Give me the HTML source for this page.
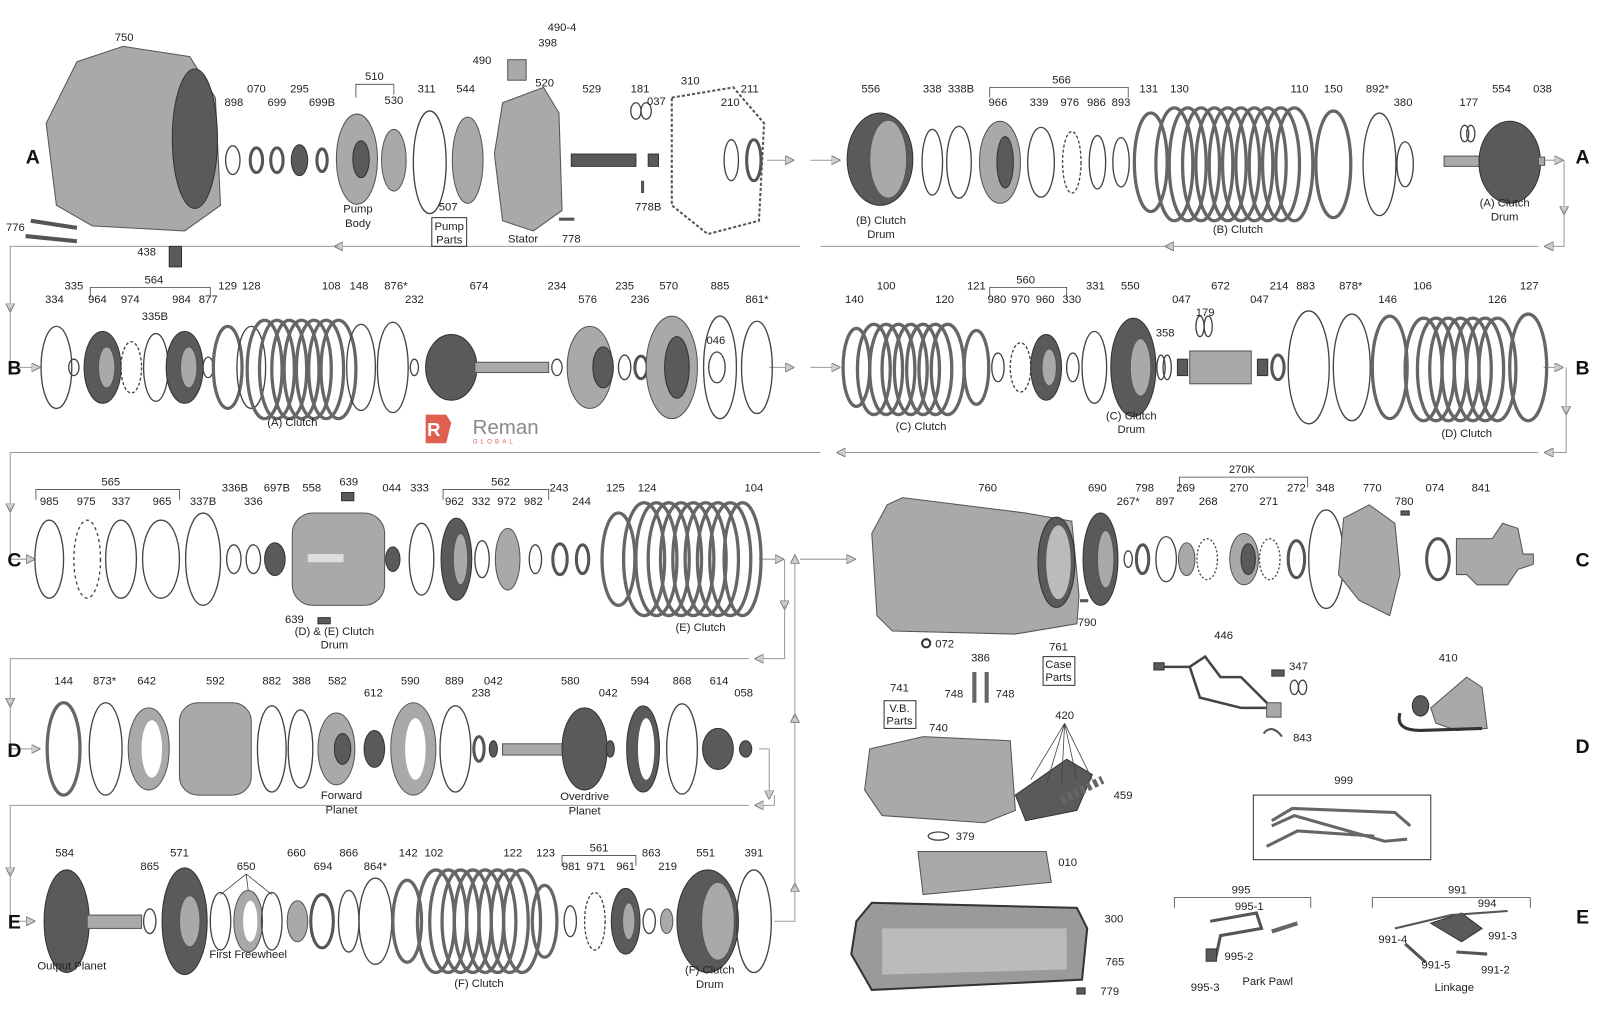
<!DOCTYPE html>
<html><head><meta charset="utf-8"><style>
html,body{margin:0;padding:0;background:#fff;}
svg{display:block}
text{font-family:"Liberation Sans",sans-serif;font-size:11px;fill:#222;text-anchor:middle}
.L{font-size:19px;font-weight:bold;fill:#111}
.r{fill:none;stroke:#444;stroke-width:1.3}
.rt{fill:none;stroke:#555;stroke-width:3}
.d{fill:#5a5a5a;stroke:#333;stroke-width:1}
.g{fill:#a9a9a9;stroke:#555;stroke-width:1}
.p{fill:none;stroke:#666;stroke-width:3.2}
.f{fill:none;stroke:#999;stroke-width:1}
.ld{stroke:#444;stroke-width:.8;fill:none}
</style></head><body>
<svg width="1600" height="1024" viewBox="0 0 1560 998" xmlns="http://www.w3.org/2000/svg">
<defs>
<marker id="ar" viewBox="0 0 10 10" refX="5" refY="5" markerWidth="9" markerHeight="9" orient="auto"><path d="M0,0 L10,5 L0,10 z" fill="#ccc" stroke="#777"/></marker>
</defs>
<!-- flow lines -->
<g class="f" marker-end="url(#ar)">
<path d="M748,156 H770"/><path d="M790,156 H815"/>
<path d="M1505,156 H1520"/>
<path d="M1525,156 V205"/><path d="M1525,205 V240 H1510"/>
<path d="M1500,240 H1140"/><path d="M1140,240 H800 M780,240 H330"/><path d="M330,240 H10 V300"/><path d="M10,300 V358 H35"/>
<path d="M750,358 H770"/><path d="M790,358 H815"/>
<path d="M1505,358 H1520"/><path d="M1527,358 V400"/><path d="M1527,400 V441 H1510"/>
<path d="M1500,441 H820"/><path d="M800,441 H10 V495"/><path d="M10,495 V545 H30"/>
<path d="M740,545 H760"/><path d="M780,545 H830"/>
<path d="M765,545 V590"/><path d="M765,590 V642 H740"/><path d="M730,642 H10 V685"/><path d="M10,685 V730 H35"/>
<path d="M740,730 H750 V775"/><path d="M755,775 V785 H740"/><path d="M730,785 H10 V850"/><path d="M10,850 V898 H30"/>
<path d="M755,898 H775 V865"/><path d="M775,865 V700"/><path d="M775,700 V545"/>
</g>
<!-- row letters -->
<text class="L" x="32" y="159">A</text><text class="L" x="1543" y="159">A</text>
<text class="L" x="14" y="365">B</text><text class="L" x="1543" y="365">B</text>
<text class="L" x="14" y="552">C</text><text class="L" x="1543" y="552">C</text>
<text class="L" x="14" y="738">D</text><text class="L" x="1543" y="734">D</text>
<text class="L" x="14" y="905">E</text><text class="L" x="1543" y="900">E</text>

<!-- ROW A parts -->
<path class="g" d="M75,60 L120,45 L185,55 L210,95 L215,200 L180,225 L90,220 L55,200 L45,120 Z"/>
<ellipse class="d" cx="190" cy="135" rx="22" ry="68"/>
<path d="M30,215 L75,222 M25,230 L75,235" stroke="#555" stroke-width="4"/>
<rect class="d" x="165" y="240" width="12" height="20"/>
<ellipse class="r" cx="227" cy="156" rx="7" ry="14"/>
<ellipse class="rt" cx="250" cy="156" rx="6" ry="12"/>
<ellipse class="rt" cx="270" cy="156" rx="6" ry="12"/>
<ellipse class="d" cx="292" cy="156" rx="8" ry="15"/>
<ellipse class="rt" cx="314" cy="156" rx="5" ry="11"/>
<ellipse class="g" cx="348" cy="155" rx="20" ry="44"/><ellipse class="d" cx="352" cy="155" rx="8" ry="18"/>
<ellipse class="g" cx="384" cy="156" rx="12" ry="30"/>
<ellipse class="r" cx="419" cy="158" rx="16" ry="50"/>
<ellipse class="g" cx="456" cy="156" rx="15" ry="42"/>
<path class="g" d="M490,100 L530,85 L545,110 L548,205 L520,225 L490,215 L482,150 Z"/>
<rect class="g" x="495" y="58" width="18" height="20"/>
<rect class="d" x="557" y="150" width="63" height="12"/>
<ellipse class="r" cx="620" cy="108" rx="5" ry="8"/><ellipse class="r" cx="630" cy="108" rx="5" ry="8"/>
<rect class="d" x="632" y="150" width="10" height="12"/>
<path d="M655,95 L715,85 L745,120 L740,215 L690,228 L655,200 Z" fill="none" stroke="#555" stroke-width="2" stroke-dasharray="3,2"/>
<ellipse class="r" cx="713" cy="156" rx="7" ry="20"/><ellipse class="rt" cx="735" cy="156" rx="7" ry="20"/>
<rect x="545" y="212" width="15" height="3" fill="#555"/><rect x="625" y="176" width="3" height="12" fill="#555"/>
<!-- right A -->
<ellipse class="d" cx="858" cy="155" rx="32" ry="45"/><ellipse class="g" cx="866" cy="155" rx="18" ry="38"/>
<ellipse class="r" cx="909" cy="158" rx="10" ry="32"/><ellipse class="r" cx="935" cy="158" rx="12" ry="35"/>
<ellipse class="g" cx="975" cy="158" rx="20" ry="40"/><ellipse class="d" cx="980" cy="158" rx="8" ry="25"/>
<ellipse class="r" cx="1015" cy="158" rx="13" ry="34"/>
<ellipse class="r" cx="1045" cy="158" rx="9" ry="30" stroke-dasharray="3,2" stroke-width="3"/>
<ellipse class="r" cx="1070" cy="158" rx="8" ry="26"/><ellipse class="r" cx="1093" cy="158" rx="8" ry="24"/>
<ellipse class="p" cx="1122" cy="158" rx="16" ry="48"/>
<g class="p"><ellipse cx="1145" cy="160" rx="18" ry="55"/><ellipse cx="1158" cy="160" rx="18" ry="55"/><ellipse cx="1171" cy="160" rx="18" ry="55"/><ellipse cx="1184" cy="160" rx="18" ry="55"/><ellipse cx="1197" cy="160" rx="18" ry="55"/><ellipse cx="1210" cy="160" rx="18" ry="55"/><ellipse cx="1223" cy="160" rx="18" ry="55"/><ellipse cx="1236" cy="160" rx="18" ry="55"/><ellipse cx="1249" cy="160" rx="18" ry="55"/><ellipse cx="1262" cy="160" rx="18" ry="55"/></g>
<ellipse class="p" cx="1300" cy="160" rx="17" ry="52"/>
<ellipse class="r" cx="1345" cy="160" rx="16" ry="50"/>
<ellipse class="r" cx="1370" cy="160" rx="8" ry="22"/>
<ellipse class="r" cx="1428" cy="130" rx="4" ry="8"/><ellipse class="r" cx="1434" cy="130" rx="4" ry="8"/>
<rect class="g" x="1408" y="152" width="45" height="10"/>
<ellipse class="d" cx="1472" cy="158" rx="30" ry="40"/>
<rect class="g" x="1500" y="153" width="6" height="8"/>

<!-- ROW B -->
<ellipse class="r" cx="55" cy="358" rx="15" ry="40"/><ellipse class="r" cx="72" cy="358" rx="5" ry="8"/>
<ellipse class="d" cx="100" cy="358" rx="18" ry="35"/><ellipse class="g" cx="104" cy="358" rx="8" ry="20"/>
<ellipse class="r" cx="128" cy="358" rx="10" ry="25" stroke-dasharray="3,2" stroke-width="3"/>
<ellipse class="r" cx="152" cy="358" rx="12" ry="33"/>
<ellipse class="d" cx="180" cy="358" rx="18" ry="35"/><ellipse class="g" cx="184" cy="358" rx="8" ry="20"/>
<ellipse class="r" cx="203" cy="358" rx="5" ry="10"/>
<ellipse class="p" cx="222" cy="358" rx="14" ry="40"/><ellipse class="r" cx="245" cy="358" rx="14" ry="40"/>
<g class="p"><ellipse cx="258" cy="360" rx="17" ry="48"/><ellipse cx="270" cy="360" rx="17" ry="48"/><ellipse cx="282" cy="360" rx="17" ry="48"/><ellipse cx="294" cy="360" rx="17" ry="48"/><ellipse cx="306" cy="360" rx="17" ry="48"/><ellipse cx="318" cy="360" rx="17" ry="48"/><ellipse cx="330" cy="360" rx="17" ry="48"/></g>
<ellipse class="r" cx="352" cy="358" rx="14" ry="42" stroke-width="2.5"/>
<ellipse class="r" cx="383" cy="358" rx="15" ry="44"/>
<ellipse class="r" cx="404" cy="358" rx="4" ry="8"/>
<ellipse class="d" cx="440" cy="358" rx="25" ry="32"/><rect class="g" x="463" y="353" width="72" height="10"/>
<ellipse class="r" cx="543" cy="358" rx="5" ry="8"/>
<ellipse class="g" cx="575" cy="358" rx="22" ry="40"/><ellipse class="d" cx="588" cy="358" rx="10" ry="20"/>
<ellipse class="r" cx="609" cy="358" rx="6" ry="12"/><ellipse class="rt" cx="625" cy="358" rx="6" ry="11"/>
<ellipse class="g" cx="655" cy="358" rx="25" ry="50"/><ellipse class="d" cx="660" cy="358" rx="12" ry="30"/>
<ellipse class="r" cx="702" cy="358" rx="16" ry="50"/><ellipse class="r" cx="699" cy="358" rx="8" ry="15"/>
<ellipse class="r" cx="738" cy="358" rx="15" ry="45"/>
<!-- Reman logo -->
<path d="M415,404 h20 l5,8 l-5,20 h-20 z" fill="#e0604f"/>
<text x="423" y="425" style="font-size:18px;fill:#fff;font-weight:bold">R</text>
<text x="493" y="423" style="font-size:20px;fill:#8a8a8a">Reman</text>
<text x="482" y="432" style="font-size:6px;fill:#e0604f;letter-spacing:3px">GLOBAL</text>
<!-- right B -->
<ellipse class="p" cx="835" cy="358" rx="13" ry="38"/>
<g class="p"><ellipse cx="852" cy="360" rx="16" ry="44"/><ellipse cx="864" cy="360" rx="16" ry="44"/><ellipse cx="876" cy="360" rx="16" ry="44"/><ellipse cx="888" cy="360" rx="16" ry="44"/><ellipse cx="900" cy="360" rx="16" ry="44"/><ellipse cx="912" cy="360" rx="16" ry="44"/><ellipse cx="924" cy="360" rx="16" ry="44"/></g>
<ellipse class="p" cx="952" cy="358" rx="12" ry="36"/>
<ellipse class="r" cx="973" cy="358" rx="6" ry="14"/>
<ellipse class="r" cx="995" cy="358" rx="10" ry="24" stroke-dasharray="3,2" stroke-width="3"/>
<ellipse class="d" cx="1020" cy="358" rx="15" ry="32"/><ellipse class="g" cx="1023" cy="358" rx="7" ry="18"/>
<ellipse class="r" cx="1046" cy="358" rx="6" ry="14"/><ellipse class="r" cx="1067" cy="358" rx="12" ry="35"/>
<ellipse class="d" cx="1105" cy="358" rx="22" ry="48"/><ellipse class="g" cx="1112" cy="358" rx="10" ry="28"/>
<ellipse class="r" cx="1132" cy="358" rx="4" ry="12"/><ellipse class="r" cx="1138" cy="358" rx="4" ry="12"/>
<rect class="d" x="1148" y="350" width="10" height="16"/>
<rect class="g" x="1160" y="342" width="60" height="32"/>
<ellipse class="r" cx="1170" cy="318" rx="4" ry="10"/><ellipse class="r" cx="1178" cy="318" rx="4" ry="10"/>
<rect class="d" x="1226" y="350" width="10" height="16"/>
<ellipse class="rt" cx="1246" cy="358" rx="6" ry="12"/>
<ellipse class="r" cx="1276" cy="358" rx="20" ry="55"/><ellipse class="r" cx="1318" cy="358" rx="18" ry="52"/>
<ellipse class="p" cx="1355" cy="358" rx="17" ry="50"/>
<g class="p"><ellipse cx="1388" cy="360" rx="18" ry="50"/><ellipse cx="1400" cy="360" rx="18" ry="50"/><ellipse cx="1412" cy="360" rx="18" ry="50"/><ellipse cx="1424" cy="360" rx="18" ry="50"/><ellipse cx="1436" cy="360" rx="18" ry="50"/><ellipse cx="1448" cy="360" rx="18" ry="50"/><ellipse cx="1460" cy="360" rx="18" ry="50"/></g>
<ellipse class="p" cx="1490" cy="358" rx="18" ry="52"/>

<!-- ROW C -->
<ellipse class="r" cx="48" cy="545" rx="14" ry="38"/>
<ellipse class="r" cx="85" cy="545" rx="13" ry="38" stroke-dasharray="3,3" stroke-width="3.5"/>
<ellipse class="r" cx="118" cy="545" rx="15" ry="38"/>
<ellipse class="r" cx="157" cy="545" rx="18" ry="38" stroke-width="4"/>
<ellipse class="r" cx="198" cy="545" rx="17" ry="45"/>
<ellipse class="r" cx="228" cy="545" rx="7" ry="14"/><ellipse class="r" cx="247" cy="545" rx="7" ry="14"/>
<ellipse class="d" cx="268" cy="545" rx="10" ry="16"/>
<rect class="g" x="285" y="500" width="90" height="90" rx="20"/><rect x="300" y="540" width="35" height="8" fill="#ddd"/>
<rect class="d" x="333" y="480" width="12" height="8"/><rect class="d" x="310" y="602" width="12" height="6"/>
<ellipse class="d" cx="383" cy="545" rx="7" ry="12"/>
<ellipse class="r" cx="411" cy="545" rx="12" ry="35"/>
<ellipse class="d" cx="445" cy="545" rx="15" ry="40"/><ellipse class="g" cx="449" cy="545" rx="7" ry="25"/>
<ellipse class="r" cx="470" cy="545" rx="7" ry="18"/>
<ellipse class="g" cx="495" cy="545" rx="12" ry="30"/>
<ellipse class="r" cx="522" cy="545" rx="6" ry="14"/>
<ellipse class="rt" cx="546" cy="545" rx="7" ry="15"/><ellipse class="rt" cx="568" cy="545" rx="6" ry="14"/>
<ellipse class="p" cx="603" cy="545" rx="16" ry="45"/>
<g class="p"><ellipse cx="628" cy="545" rx="20" ry="55"/><ellipse cx="640" cy="545" rx="20" ry="55"/><ellipse cx="652" cy="545" rx="20" ry="55"/><ellipse cx="664" cy="545" rx="20" ry="55"/><ellipse cx="676" cy="545" rx="20" ry="55"/><ellipse cx="688" cy="545" rx="20" ry="55"/><ellipse cx="700" cy="545" rx="20" ry="55"/><ellipse cx="712" cy="545" rx="20" ry="55"/><ellipse cx="724" cy="545" rx="18" ry="55"/></g>
<!-- case -->
<path class="g" d="M865,492 L880,485 L1000,500 L1045,508 L1052,580 L1050,608 L990,618 L870,615 L855,600 L850,520 Z"/>
<ellipse class="d" cx="1030" cy="548" rx="18" ry="44"/><ellipse fill="#bbb" cx="1032" cy="548" rx="12" ry="36"/>
<circle cx="903" cy="627" r="4" fill="none" stroke="#333" stroke-width="2"/>
<rect x="1053" y="584" width="8" height="3" fill="#555"/>
<ellipse class="d" cx="1073" cy="545" rx="17" ry="45"/><ellipse class="g" cx="1078" cy="545" rx="8" ry="28"/>
<ellipse class="r" cx="1100" cy="545" rx="4" ry="8"/>
<ellipse class="rt" cx="1114" cy="545" rx="6" ry="14"/>
<ellipse class="r" cx="1137" cy="545" rx="10" ry="22"/>
<ellipse class="g" cx="1157" cy="545" rx="8" ry="16"/>
<ellipse class="r" cx="1177" cy="545" rx="10" ry="20" stroke-dasharray="2,2" stroke-width="3"/>
<ellipse class="g" cx="1213" cy="545" rx="14" ry="25"/><ellipse class="d" cx="1217" cy="545" rx="7" ry="15"/>
<ellipse class="r" cx="1238" cy="545" rx="10" ry="20" stroke-dasharray="2,2" stroke-width="3"/>
<ellipse class="rt" cx="1264" cy="545" rx="8" ry="18"/>
<ellipse class="r" cx="1293" cy="545" rx="17" ry="48"/>
<path class="g" d="M1310,505 L1335,492 L1360,510 L1365,560 L1355,600 L1325,585 L1305,560 Z"/>
<rect class="d" x="1366" y="498" width="8" height="4"/>
<ellipse class="rt" cx="1402" cy="545" rx="11" ry="20"/>
<path class="g" d="M1420,525 L1455,525 L1465,510 L1480,515 L1485,540 L1495,540 L1495,550 L1480,555 L1470,570 L1440,570 L1430,560 L1420,560 Z"/>

<!-- ROW D -->
<ellipse class="p" cx="62" cy="730" rx="16" ry="45"/>
<ellipse class="r" cx="103" cy="730" rx="16" ry="45"/>
<ellipse class="g" cx="145" cy="730" rx="20" ry="40"/><ellipse fill="#fff" cx="148" cy="730" rx="10" ry="28"/>
<rect class="g" x="175" y="685" width="70" height="90" rx="18"/>
<ellipse class="r" cx="265" cy="730" rx="14" ry="42"/><ellipse class="r" cx="293" cy="730" rx="12" ry="38"/>
<ellipse class="g" cx="328" cy="730" rx="18" ry="35"/><ellipse class="d" cx="334" cy="730" rx="8" ry="15"/>
<ellipse class="d" cx="365" cy="730" rx="10" ry="18"/>
<ellipse class="g" cx="403" cy="730" rx="22" ry="45"/><ellipse fill="#fff" cx="405" cy="730" rx="10" ry="30"/>
<ellipse class="r" cx="444" cy="730" rx="15" ry="42"/>
<ellipse class="rt" cx="467" cy="730" rx="5" ry="12"/><ellipse class="d" cx="481" cy="730" rx="4" ry="8"/>
<rect class="g" x="490" y="725" width="70" height="11"/>
<ellipse class="d" cx="570" cy="730" rx="22" ry="40"/>
<ellipse class="d" cx="595" cy="730" rx="4" ry="8"/>
<ellipse class="d" cx="627" cy="730" rx="16" ry="42"/><ellipse fill="#fff" cx="630" cy="730" rx="8" ry="30"/>
<ellipse class="r" cx="665" cy="730" rx="15" ry="44"/>
<ellipse class="d" cx="700" cy="730" rx="15" ry="20"/><ellipse class="d" cx="727" cy="730" rx="6" ry="8"/>
<!-- right D -->
<path d="M1130,650 L1160,650 L1175,640 L1190,660 L1210,660 L1240,690 M1160,650 L1170,680 L1210,690 L1240,690" fill="none" stroke="#444" stroke-width="2.5"/>
<rect class="d" x="1125" y="646" width="10" height="7"/><rect class="d" x="1240" y="653" width="12" height="6"/>
<rect class="g" x="1235" y="685" width="14" height="14"/>
<ellipse class="r" cx="1262" cy="670" rx="4" ry="7"/><ellipse class="r" cx="1270" cy="670" rx="4" ry="7"/>
<path d="M1232,715 Q1240,705 1250,718" fill="none" stroke="#555" stroke-width="2"/>
<path class="g" d="M1395,690 L1430,660 L1445,670 L1450,710 L1420,712 L1400,705 Z"/>
<ellipse class="d" cx="1385" cy="688" rx="8" ry="10"/>
<path d="M1365,695 Q1360,712 1385,712 L1445,710" fill="none" stroke="#333" stroke-width="3"/>
<rect x="1222" y="775" width="173" height="63" fill="none" stroke="#333"/>
<path d="M1240,800 L1260,788 L1360,792 L1375,805 M1240,805 L1262,795 L1350,820 L1372,818 M1235,825 L1265,810 L1340,815" fill="none" stroke="#666" stroke-width="3"/>

<!-- ROW E -->
<ellipse class="d" cx="65" cy="898" rx="22" ry="50"/><rect class="g" x="85" y="892" width="53" height="13"/>
<ellipse class="r" cx="146" cy="898" rx="6" ry="12"/>
<ellipse class="d" cx="180" cy="898" rx="22" ry="52"/><ellipse class="g" cx="185" cy="898" rx="10" ry="25"/>
<ellipse class="r" cx="215" cy="898" rx="10" ry="28" stroke-width="2.5"/>
<ellipse class="g" cx="242" cy="898" rx="14" ry="30"/><ellipse fill="#fff" cx="244" cy="898" rx="7" ry="20"/>
<ellipse class="r" cx="265" cy="898" rx="10" ry="28" stroke-width="2.5"/>
<ellipse class="g" cx="290" cy="898" rx="10" ry="20"/>
<ellipse class="rt" cx="314" cy="898" rx="11" ry="26"/>
<ellipse class="r" cx="340" cy="898" rx="10" ry="30"/>
<ellipse class="r" cx="366" cy="898" rx="16" ry="42"/>
<ellipse class="p" cx="397" cy="898" rx="14" ry="40"/>
<g class="p"><ellipse cx="425" cy="898" rx="18" ry="50"/><ellipse cx="437" cy="898" rx="18" ry="50"/><ellipse cx="449" cy="898" rx="18" ry="50"/><ellipse cx="461" cy="898" rx="18" ry="50"/><ellipse cx="473" cy="898" rx="18" ry="50"/><ellipse cx="485" cy="898" rx="18" ry="50"/><ellipse cx="497" cy="898" rx="18" ry="50"/><ellipse cx="509" cy="898" rx="18" ry="50"/></g>
<ellipse class="p" cx="531" cy="898" rx="12" ry="35"/>
<ellipse class="r" cx="556" cy="898" rx="6" ry="15"/>
<ellipse class="r" cx="580" cy="898" rx="10" ry="28" stroke-dasharray="3,2" stroke-width="3"/>
<ellipse class="d" cx="610" cy="898" rx="14" ry="32"/><ellipse class="g" cx="613" cy="898" rx="6" ry="18"/>
<ellipse class="r" cx="633" cy="898" rx="6" ry="12"/><ellipse class="g" cx="650" cy="898" rx="6" ry="12"/>
<ellipse class="d" cx="690" cy="898" rx="30" ry="50"/><ellipse class="g" cx="700" cy="898" rx="16" ry="38"/>
<ellipse class="r" cx="735" cy="898" rx="17" ry="50"/>
<!-- right E -->
<path class="g" d="M848,730 L900,718 L985,722 L990,790 L960,802 L860,795 L843,770 Z"/>
<path class="d" d="M990,775 L1040,740 L1065,755 L1050,790 L1000,800 Z"/>
<path d="M1035,780 L1075,760" stroke="#666" stroke-width="8" stroke-dasharray="4,3"/>
<path d="M950,655 V685 M962,655 V685" stroke="#666" stroke-width="4"/>
<ellipse class="r" cx="915" cy="815" rx="10" ry="4"/>
<path class="g" d="M895,830 L1020,830 L1025,860 L900,872 Z"/>
<path d="M835,898 L850,880 L1050,885 L1060,905 L1055,955 L850,965 L830,930 Z" fill="#9a9a9a" stroke="#333" stroke-width="2"/>
<path d="M860,905 L1040,905 L1040,945 L860,950 Z" fill="#bbb"/>
<rect class="d" x="1050" y="963" width="8" height="6"/>
<path d="M1180,898 L1225,890 L1230,905 L1190,912 L1185,935" fill="none" stroke="#555" stroke-width="3"/>
<rect class="d" x="1176" y="925" width="10" height="12"/>
<path d="M1240,908 L1265,900" stroke="#666" stroke-width="4"/>
<path class="d" d="M1395,900 L1425,890 L1445,905 L1425,918 Z"/>
<path d="M1360,905 L1415,892 L1470,888" fill="none" stroke="#555" stroke-width="2"/>
<path d="M1370,920 L1390,938 M1420,928 L1450,930" stroke="#555" stroke-width="3"/>

<!-- LABELS -->
<text x="121" y="40">750</text><text x="228" y="103">898</text><text x="250" y="90">070</text><text x="270" y="103">699</text><text x="292" y="90">295</text><text x="314" y="103">699B</text>
<text x="365" y="78">510</text><path class="ld" d="M347,95 V82 H384 V92"/><text x="384" y="101">530</text>
<text x="416" y="90">311</text><text x="454" y="90">544</text><text x="548" y="30">490-4</text><text x="534" y="45">398</text>
<text x="470" y="62">490</text><text x="531" y="84">520</text><text x="577" y="90">529</text><text x="624" y="90">181</text><text x="640" y="102">037</text>
<text x="673" y="82">310</text><text x="712" y="103">210</text><text x="731" y="90">211</text>
<text x="437" y="205">507</text><rect x="421" y="212" width="34" height="28" fill="none" stroke="#333"/><text x="438" y="224">Pump</text><text x="438" y="237">Parts</text>
<text x="349" y="207">Pump</text><text x="349" y="221">Body</text><text x="510" y="236">Stator</text><text x="557" y="236">778</text><text x="632" y="205">778B</text>
<text x="15" y="225">776</text><text x="143" y="249">438</text>
<text x="849" y="90">556</text><text x="909" y="90">338</text><text x="937" y="90">338B</text>
<text x="1035" y="81">566</text><path class="ld" d="M965,95 V85 H1100 V95"/>
<text x="973" y="103">966</text><text x="1013" y="103">339</text><text x="1043" y="103">976</text><text x="1069" y="103">986</text><text x="1093" y="103">893</text>
<text x="1120" y="90">131</text><text x="1150" y="90">130</text><text x="1267" y="90">110</text><text x="1300" y="90">150</text><text x="1343" y="90">892*</text><text x="1368" y="103">380</text>
<text x="1432" y="103">177</text><text x="1464" y="90">554</text><text x="1504" y="90">038</text>
<text x="859" y="218">(B) Clutch</text><text x="859" y="232">Drum</text><text x="1207" y="227">(B) Clutch</text>
<text x="1467" y="201">(A) Clutch</text><text x="1467" y="215">Drum</text>

<text x="53" y="295">334</text><text x="72" y="282">335</text><text x="150" y="276">564</text><path class="ld" d="M88,290 V280 H205 V290"/>
<text x="95" y="295">964</text><text x="127" y="295">974</text><text x="151" y="312">335B</text><text x="177" y="295">984</text><text x="203" y="295">877</text>
<text x="222" y="282">129</text><text x="245" y="282">128</text><text x="323" y="282">108</text><text x="350" y="282">148</text><text x="386" y="282">876*</text><text x="404" y="295">232</text>
<text x="467" y="282">674</text><text x="543" y="282">234</text><text x="573" y="295">576</text><text x="609" y="282">235</text><text x="624" y="295">236</text><text x="652" y="282">570</text>
<text x="702" y="282">885</text><text x="698" y="335">046</text><text x="738" y="295">861*</text><text x="285" y="415">(A) Clutch</text>
<text x="833" y="295">140</text><text x="864" y="282">100</text><text x="921" y="295">120</text><text x="952" y="282">121</text>
<text x="1000" y="276">560</text><path class="ld" d="M965,290 V280 H1040 V290"/>
<text x="972" y="295">980</text><text x="995" y="295">970</text><text x="1019" y="295">960</text><text x="1045" y="295">330</text><text x="1068" y="282">331</text><text x="1102" y="282">550</text>
<text x="1152" y="295">047</text><text x="1175" y="308">179</text><text x="1190" y="282">672</text><text x="1228" y="295">047</text><text x="1247" y="282">214</text><text x="1136" y="328">358</text>
<text x="1273" y="282">883</text><text x="1317" y="282">878*</text><text x="1353" y="295">146</text><text x="1387" y="282">106</text><text x="1460" y="295">126</text><text x="1491" y="282">127</text>
<text x="898" y="419">(C) Clutch</text><text x="1103" y="409">(C) Clutch</text><text x="1103" y="422">Drum</text><text x="1430" y="426">(D) Clutch</text>

<text x="108" y="473">565</text><path class="ld" d="M35,487 V477 H175 V487"/>
<text x="48" y="492">985</text><text x="84" y="492">975</text><text x="118" y="492">337</text><text x="158" y="492">965</text><text x="198" y="492">337B</text>
<text x="229" y="479">336B</text><text x="247" y="492">336</text><text x="270" y="479">697B</text><text x="304" y="479">558</text><text x="340" y="473">639</text>
<text x="382" y="479">044</text><text x="409" y="479">333</text><text x="488" y="473">562</text><path class="ld" d="M432,487 V477 H535 V487"/>
<text x="443" y="492">962</text><text x="469" y="492">332</text><text x="494" y="492">972</text><text x="520" y="492">982</text><text x="545" y="479">243</text><text x="567" y="492">244</text>
<text x="600" y="479">125</text><text x="631" y="479">124</text><text x="735" y="479">104</text>
<text x="287" y="607">639</text><text x="326" y="619">(D) &amp; (E) Clutch</text><text x="326" y="632">Drum</text><text x="683" y="615">(E) Clutch</text>
<text x="963" y="479">760</text><text x="1070" y="479">690</text><text x="1116" y="479">798</text><text x="1100" y="492">267*</text><text x="1136" y="492">897</text>
<text x="1211" y="461">270K</text><path class="ld" d="M1150,475 V465 H1275 V475"/>
<text x="1156" y="479">269</text><text x="1178" y="492">268</text><text x="1208" y="479">270</text><text x="1237" y="492">271</text><text x="1264" y="479">272</text><text x="1292" y="479">348</text>
<text x="1338" y="479">770</text><text x="1369" y="492">780</text><text x="1399" y="479">074</text><text x="1444" y="479">841</text>
<text x="1060" y="610">790</text><text x="921" y="631">072</text>
<text x="1032" y="634">761</text><rect x="1017" y="640" width="31" height="28" fill="none" stroke="#333"/><text x="1032" y="651">Case</text><text x="1032" y="664">Parts</text>
<text x="956" y="645">386</text><text x="930" y="680">748</text><text x="980" y="680">748</text>
<text x="877" y="674">741</text><rect x="862" y="683" width="31" height="27" fill="none" stroke="#333"/><text x="877" y="694">V.B.</text><text x="877" y="706">Parts</text>
<text x="915" y="713">740</text><text x="1038" y="701">420</text><path class="ld" d="M1038,705 L1005,760 M1038,705 L1020,765 M1038,705 L1035,765 M1038,705 L1050,760 M1038,705 L1065,760"/>
<text x="1095" y="779">459</text><text x="941" y="819">379</text><text x="1041" y="844">010</text><text x="1086" y="899">300</text><text x="1087" y="941">765</text><text x="1082" y="970">779</text>
<text x="1193" y="623">446</text><text x="1266" y="653">347</text><text x="1270" y="723">843</text><text x="1412" y="645">410</text><text x="1310" y="764">999</text>
<text x="1210" y="871">995</text><path class="ld" d="M1145,885 V875 H1278 V885"/><text x="1218" y="887">995-1</text><text x="1208" y="936">995-2</text><text x="1175" y="966">995-3</text><text x="1236" y="960">Park Pawl</text>
<text x="1421" y="871">991</text><path class="ld" d="M1338,885 V875 H1492 V885"/><text x="1450" y="884">994</text><text x="1465" y="916">991-3</text><text x="1358" y="919">991-4</text><text x="1400" y="944">991-5</text><text x="1458" y="949">991-2</text><text x="1418" y="966">Linkage</text>

<text x="62" y="667">144</text><text x="102" y="667">873*</text><text x="143" y="667">642</text><text x="210" y="667">592</text><text x="265" y="667">882</text><text x="294" y="667">388</text><text x="329" y="667">582</text>
<text x="364" y="679">612</text><text x="400" y="667">590</text><text x="443" y="667">889</text><text x="469" y="679">238</text><text x="481" y="667">042</text><text x="556" y="667">580</text><text x="593" y="679">042</text>
<text x="624" y="667">594</text><text x="665" y="667">868</text><text x="701" y="667">614</text><text x="725" y="679">058</text>
<text x="333" y="779">Forward</text><text x="333" y="793">Planet</text><text x="570" y="780">Overdrive</text><text x="570" y="794">Planet</text>

<text x="63" y="835">584</text><text x="175" y="835">571</text><text x="146" y="848">865</text><text x="240" y="848">650</text><path class="ld" d="M240,852 L215,872 M240,852 L242,868 M240,852 L265,872"/>
<text x="289" y="835">660</text><text x="315" y="848">694</text><text x="340" y="835">866</text><text x="366" y="848">864*</text><text x="398" y="835">142</text><text x="423" y="835">102</text><text x="500" y="835">122</text><text x="532" y="835">123</text>
<text x="584" y="830">561</text><path class="ld" d="M548,844 V834 H620 V844"/>
<text x="557" y="848">981</text><text x="581" y="848">971</text><text x="610" y="848">961</text><text x="635" y="835">863</text><text x="651" y="848">219</text><text x="688" y="835">551</text><text x="735" y="835">391</text>
<text x="70" y="945">Output Planet</text><text x="242" y="934">First Freewheel</text><text x="467" y="962">(F) Clutch</text><text x="692" y="949">(F) Clutch</text><text x="692" y="963">Drum</text>
</svg>
</body></html>
